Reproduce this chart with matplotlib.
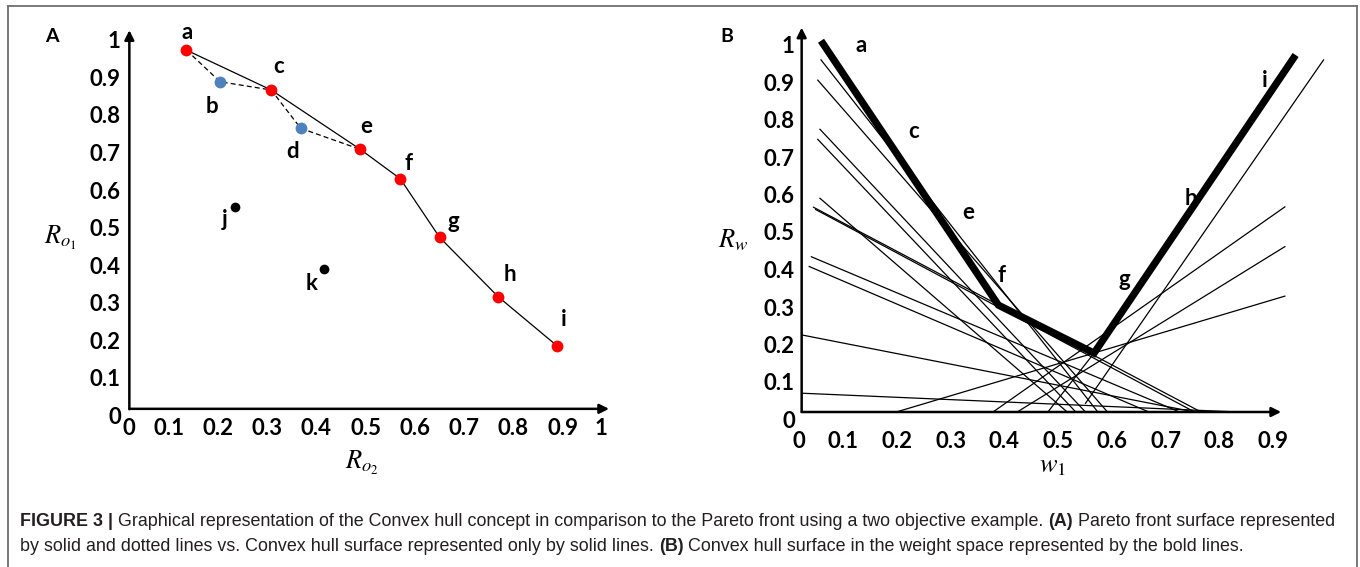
import matplotlib
matplotlib.use("Agg")
import matplotlib.pyplot as plt
from matplotlib import font_manager
from matplotlib.lines import Line2D

# ---- panel A: points in objective space ----
point_names = ['a', 'b', 'c', 'd', 'e', 'f', 'g', 'h', 'i', 'j', 'k']
ro2 = [0.136, 0.204, 0.308, 0.368, 0.489, 0.570, 0.650, 0.769, 0.888, 0.235, 0.415]
ro1 = [0.972, 0.888, 0.866, 0.764, 0.708, 0.630, 0.474, 0.316, 0.186, 0.556, 0.389]
point_kind = ['hull', 'pareto', 'hull', 'pareto', 'hull', 'hull', 'hull', 'hull', 'hull', 'dom', 'dom']
hull_order = ['a', 'c', 'e', 'f', 'g', 'h', 'i']
pareto_order = ['a', 'b', 'c', 'd', 'e']

# ---- panel B: lines in weight space ----
bold_w1 = [0.059, 0.389, 0.567, 0.942]
bold_rw = [1.010, 0.305, 0.177, 0.972]
# thin lines: start (w1, Rw) -> end (w1, Rw)
thin_x0 = [0.059, 0.053, 0.057, 0.053, 0.057, 0.045, 0.049, 0.041, 0.037, 0.025, 0.025,
           0.199, 0.379, 0.424, 0.551, 0.481]
thin_y0 = [0.959, 0.905, 0.774, 0.747, 0.590, 0.566, 0.560, 0.434, 0.408, 0.225, 0.070,
           0.0, 0.0, 0.0, 0.043, 0.0]
thin_x1 = [0.574, 0.592, 0.551, 0.533, 0.517, 0.766, 0.754, 0.726, 0.669, 0.754, 0.834,
           0.922, 0.922, 0.922, 0.994, 0.567]
thin_y1 = [0.0, 0.0, 0.0, 0.0, 0.0, 0.0, 0.0, 0.0, 0.0, 0.0, 0.0,
           0.329, 0.567, 0.461, 0.959, 0.177]
weight_names = ['a', 'c', 'e', 'f', 'g', 'h', 'i']
weight_lab_x = [0.134, 0.231, 0.333, 0.395, 0.623, 0.748, 0.885]
weight_lab_y = [0.996, 0.768, 0.552, 0.385, 0.372, 0.590, 0.905]

ticks_a = ['0', '0.1', '0.2', '0.3', '0.4', '0.5', '0.6', '0.7', '0.8', '0.9', '1']
ticks_b = ['0', '0.1', '0.2', '0.3', '0.4', '0.5', '0.6', '0.7', '0.8', '0.9']

names = {f.name for f in font_manager.fontManager.ttflist}
tick_font = 'Lato' if 'Lato' in names else 'DejaVu Sans'
cap_font = 'Liberation Sans Narrow' if 'Liberation Sans Narrow' in names else 'Liberation Sans'

plt.rcParams['mathtext.fontset'] = 'stix'

W, H = 1360, 567
fig = plt.figure(figsize=(W / 100, H / 100), dpi=100)


def fx(px):
    return px / W


def fy(py):
    return 1 - py / H


# outer frame (left, top, right)
for xs, ys in [([8, 8], [567, 6]), ([8, 1357], [6, 6]), ([1357, 1357], [6, 567])]:
    fig.add_artist(Line2D([fx(v) for v in xs], [fy(v) for v in ys], color='#6e6e6e', lw=1.3))

# ---------------- Panel A ----------------
ax = fig.add_axes([fx(119.5), fy(415.6), 492.5 / W, 376 * 1.05 / H])
ax.set_xlim(0, 1)
ax.set_ylim(0, 1.05)
for s in ax.spines.values():
    s.set_visible(False)
ax.set_xticks([0.019] + [v / 10 for v in range(1, 10)] + [0.978])
ax.set_xticklabels(ticks_a)
ax.set_yticks([v / 10 for v in range(0, 11)])
ax.set_yticklabels(['0'] + ticks_a[1:])
ax.tick_params(length=0, labelsize=16)
ax.tick_params(axis='x', pad=2)
ax.tick_params(axis='y', pad=-1)
for t in ax.get_xticklabels() + ax.get_yticklabels():
    t.set_fontfamily(tick_font)
    t.set_fontweight('bold')

ax.annotate('', xy=(0.02, 1.025), xytext=(0.02, 0.017),
            arrowprops=dict(arrowstyle='-|>', lw=1.8, color='black', mutation_scale=14,
                            shrinkA=0, shrinkB=0))
ax.annotate('', xy=(0.994, 0.018), xytext=(0.02, 0.018),
            arrowprops=dict(arrowstyle='-|>', lw=1.8, color='black', mutation_scale=14,
                            shrinkA=0, shrinkB=0))

idx = {n: i for i, n in enumerate(point_names)}
ax.plot([ro2[idx[n]] for n in hull_order], [ro1[idx[n]] for n in hull_order],
        color='black', lw=0.9, zorder=2)
ax.plot([ro2[idx[n]] for n in pareto_order], [ro1[idx[n]] for n in pareto_order],
        color='black', lw=0.9, ls=(0, (4, 2.5)), zorder=2)
kind_style = {'hull': ('#ff0000', 8.5), 'pareto': ('#4f81bd', 8.5), 'dom': ('black', 7)}
offsets_a = {'a': (1, 18), 'b': (-8, -25), 'c': (7, 23), 'd': (-8, -23), 'e': (6, 23),
             'f': (8, 15), 'g': (14, 16), 'h': (12, 22), 'i': (7, 26), 'j': (-11, -13),
             'k': (-12, -14)}
for n, x, y, k in zip(point_names, ro2, ro1, point_kind):
    c, ms = kind_style[k]
    ax.plot(x, y, 'o', color=c, ms=ms, mec='none', zorder=3)
    dx, dy = offsets_a[n]
    ax.annotate(n, (x, y), xytext=(dx * 0.72, dy * 0.72), textcoords='offset points',
                ha='center', va='center', fontsize=16, fontweight='bold', family=tick_font)

fig.text(fx(52), fy(36), 'A', fontsize=14, fontweight='bold', family=tick_font,
         ha='center', va='center')
fig.text(fx(60), fy(238), r'$R_{o_1}$', fontsize=19, ha='center', va='center')
fig.text(fx(362), fy(463), r'$R_{o_2}$', fontsize=19, ha='center', va='center')

# ---------------- Panel B ----------------
bx = fig.add_axes([fx(789.3), fy(419.5), 537.5 / W, 375 * 1.06 / H])
bx.set_xlim(0, 1)
bx.set_ylim(0, 1.06)
for s in bx.spines.values():
    s.set_visible(False)
bx.set_xticks([0.018] + [v / 10 for v in range(1, 10)])
bx.set_xticklabels(ticks_b)
bx.set_yticks([v / 10 for v in range(0, 11)])
bx.set_yticklabels(ticks_a)
bx.tick_params(length=0, labelsize=16)
bx.tick_params(axis='x', pad=8)
bx.tick_params(axis='y', pad=-4)
for t in bx.get_xticklabels() + bx.get_yticklabels():
    t.set_fontfamily(tick_font)
    t.set_fontweight('bold')

for x0, y0, x1, y1 in zip(thin_x0, thin_y0, thin_x1, thin_y1):
    bx.plot([x0, x1], [y0 + 0.02 * (y0 == 0), y1 + 0.02 * (y1 == 0)],
            color='black', lw=0.9, zorder=2)
bx.plot(bold_w1, bold_rw, color='black', lw=5.2, solid_joinstyle='miter',
        solid_capstyle='butt', zorder=3)

bx.annotate('', xy=(0.023, 1.045), xytext=(0.023, 0.02),
            arrowprops=dict(arrowstyle='-|>', lw=1.8, color='black', mutation_scale=14,
                            shrinkA=0, shrinkB=0))
bx.annotate('', xy=(0.915, 0.02), xytext=(0.023, 0.02),
            arrowprops=dict(arrowstyle='-|>', lw=1.8, color='black', mutation_scale=14,
                            shrinkA=0, shrinkB=0))
for n, x, y in zip(weight_names, weight_lab_x, weight_lab_y):
    bx.text(x, y, n, ha='center', va='center', fontsize=16, fontweight='bold',
            family=tick_font, zorder=4)

fig.text(fx(727), fy(36), 'B', fontsize=14, fontweight='bold', family=tick_font,
         ha='center', va='center')
fig.text(fx(733), fy(240), r'$R_w$', fontsize=19, ha='center', va='center')
fig.text(fx(1053), fy(465), r'$w_1$', fontsize=19, ha='center', va='center')

# ---------------- caption ----------------
caption = [
    [('FIGURE 3 |', True),
     (' Graphical representation of the Convex hull concept in comparison to the Pareto front '
      'using a two objective example. ', False),
     ('(A)', True), (' Pareto front surface represented', False)],
    [('by solid and dotted lines vs. Convex hull surface represented only by solid lines. ', False),
     ('(B)', True), (' Convex hull surface in the weight space represented by the bold lines.', False)],
]
renderer = fig.canvas.get_renderer()
for line, base in zip(caption, [526, 551]):
    x = 20
    for txt, bold in line:
        t = fig.text(fx(x), fy(base), txt, fontsize=12.85, family=cap_font,
                     fontweight='bold' if bold else 'normal', color='#231f20', va='baseline')
        x += t.get_window_extent(renderer).width

fig.savefig('out.png', dpi=100)
